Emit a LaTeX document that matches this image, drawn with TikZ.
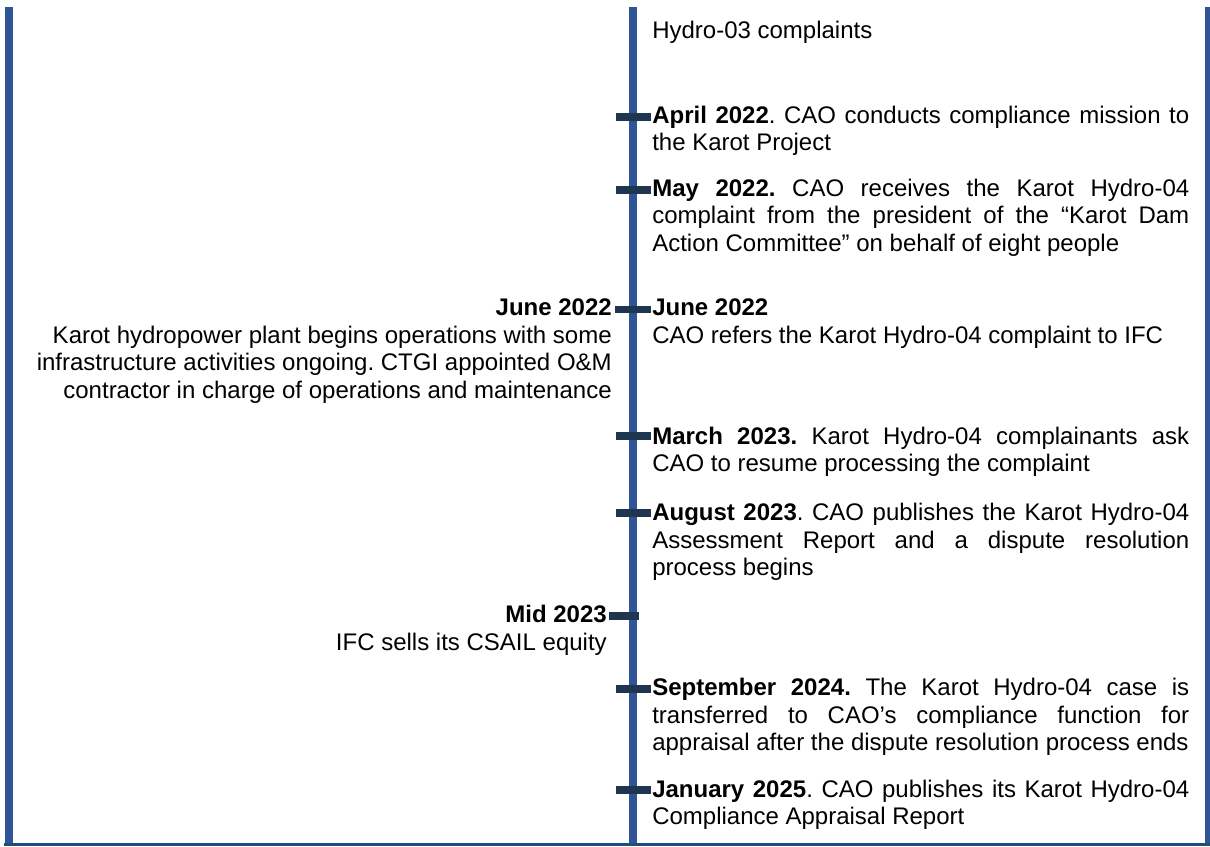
\documentclass[tikz,border=0pt]{standalone}
\usepackage{fontspec}
\setmainfont{Liberation Sans}
\definecolor{barblue}{HTML}{2F5597}
\definecolor{ticknavy}{HTML}{1F3650}
\definecolor{basecol}{HTML}{1F4E79}
\tolerance=9999
\hyphenpenalty=10000
\exhyphenpenalty=10000
\frenchspacing
\begin{document}
\begin{tikzpicture}[x=0.75pt,y=-0.75pt,
  txt/.style={inner sep=0pt, font=\fontsize{18}{20.8}\selectfont\frenchspacing},
  rightentry/.style={txt, anchor=base west, text width=402.75pt, align=justify},
  leftentry/.style={txt, anchor=base east, text width=440pt, align=flush right},
  barfill/.style={fill=barblue, draw=none},
  tickmark/.style={draw=ticknavy, line width=5.8pt}]
\useasboundingbox (0,0) rectangle (1210,846);
% frame bars
\fill[barfill] (5,7) rectangle (13,845);
\fill[barfill] (1205,7) rectangle (1210,845);
\fill[barfill] (629,7) rectangle (637,843);
\fill[basecol] (4,843) rectangle (1210,845.5);
% tick coordinates
\coordinate (tA1) at (616,117);  \coordinate (tA2) at (651,117);
\coordinate (tB1) at (616,190);  \coordinate (tB2) at (651,190);
\coordinate (tC1) at (615,309.5);\coordinate (tC2) at (651,309.5);
\coordinate (tD1) at (616,436);  \coordinate (tD2) at (651,436);
\coordinate (tE1) at (616,513);  \coordinate (tE2) at (651,513);
\coordinate (tF1) at (609,616);  \coordinate (tF2) at (639,616);
\coordinate (tG1) at (616,689);  \coordinate (tG2) at (651,689);
\coordinate (tH1) at (616,790);  \coordinate (tH2) at (651,790);
\foreach \t in {A,B,C,D,E,F,G,H} {\draw[tickmark] (t\t1) -- (t\t2);}
% right column
\node[rightentry] (hydro03) at (652,38.5) {Hydro-03 complaints};
\node[rightentry] (apr22) at (652,123) {\textbf{April 2022}. CAO conducts compliance mission to \linebreak the Karot Project};
\node[rightentry] (may22) at (652,196) {\textbf{May 2022.} CAO receives the Karot Hydro-04 \linebreak complaint from the president of the “Karot Dam \linebreak Action Committee” on behalf of eight people};
\node[rightentry] (jun22r) at (652,315.5) {\textbf{June 2022}\newline CAO refers the Karot Hydro-04 complaint to IFC};
\node[rightentry] (mar23) at (652,444) {\textbf{March 2023.} Karot Hydro-04 complainants ask \linebreak CAO to resume processing the complaint};
\node[rightentry] (aug23) at (652,520.5) {\textbf{August 2023}. CAO publishes the Karot Hydro-04 \linebreak Assessment Report and a dispute resolution \linebreak process begins};
\node[rightentry] (sep24) at (652,695.5) {\textbf{September 2024.} The Karot Hydro-04 case is \linebreak transferred to CAO’s compliance function for \linebreak appraisal after the dispute resolution process ends};
\node[rightentry] (jan25) at (652,797) {\textbf{January 2025}. CAO publishes its Karot Hydro-04 \linebreak Compliance Appraisal Report};
% left column
\node[leftentry] (jun22l) at (612,315.5) {\textbf{June 2022}\linebreak Karot hydropower plant begins operations with some\linebreak infrastructure activities ongoing. CTGI appointed O\&M\linebreak contractor in charge of operations and maintenance};
\node[leftentry] (mid23) at (607,622.5) {\textbf{Mid 2023}\linebreak IFC sells its CSAIL equity};
\end{tikzpicture}
\end{document}
